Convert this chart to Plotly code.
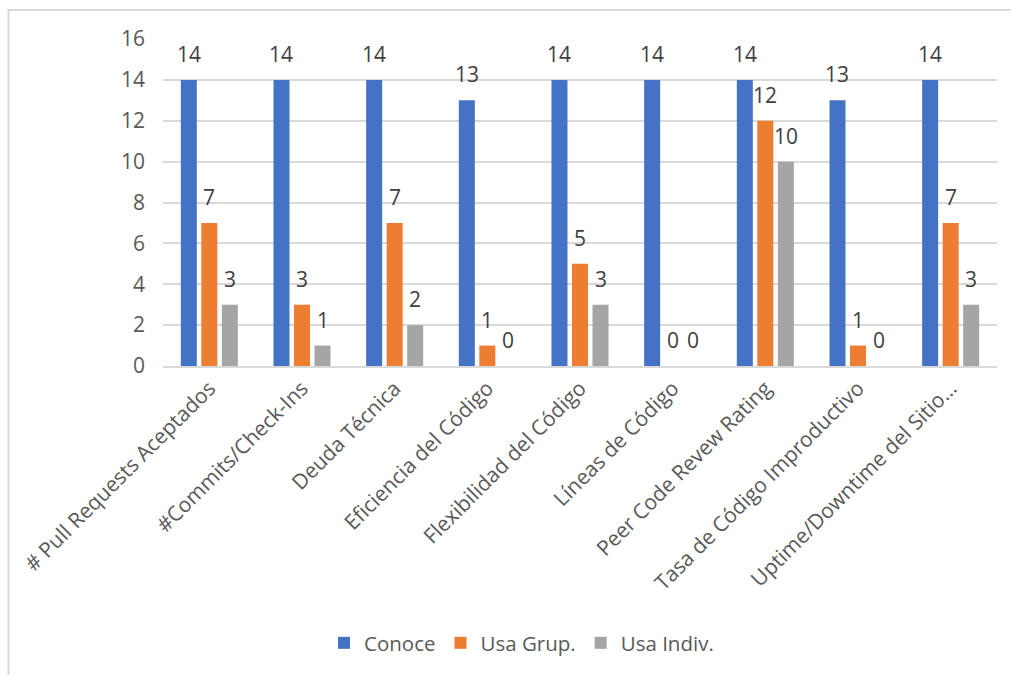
import plotly.graph_objects as go

categories = [
    "# Pull Requests Aceptados",
    "#Commits/Check-Ins",
    "Deuda Técnica",
    "Eficiencia del Código",
    "Flexibilidad del Código",
    "Líneas de Código",
    "Peer Code Revew Rating",
    "Tasa de Código Improductivo",
    "Uptime/Downtime del Sitio…",
]
conoce = [14, 14, 14, 13, 14, 14, 14, 13, 14]
usa_grup = [7, 3, 7, 1, 5, 0, 12, 1, 7]
usa_indiv = [3, 1, 2, 0, 3, 0, 10, 0, 3]

series = [
    ("Conoce", conoce, "#4472C4"),
    ("Usa Grup.", usa_grup, "#ED7D31"),
    ("Usa Indiv.", usa_indiv, "#A5A5A5"),
]

W, H = 1011, 675
L, R, T, B = 163, 14, 39, 309
plot_w = W - L - R
plot_h = H - T - B
FONT = "Open Sans"
TXT = "#595959"

BARGAP = 0.336
slot_px = plot_w / len(categories) * (1 - BARGAP) / len(series)

fig = go.Figure()
annotations = []
for i, (name, vals, color) in enumerate(series):
    fig.add_trace(go.Bar(
        name=name, x=categories, y=vals,
        marker=dict(color=color, line=dict(width=0)),
    ))
    offset = (i - (len(series) - 1) / 2) * slot_px
    for c, v in zip(categories, vals):
        annotations.append(dict(
            x=c, y=v, xref="x", yref="y", text=str(v), showarrow=False,
            xanchor="center", yanchor="bottom", xshift=offset, yshift=10,
            font=dict(family=FONT, size=21, color="#404040"),
        ))

def px_x(p):
    return (p - L) / plot_w

def px_y(p):
    return (H - B - p) / plot_h

fig.update_layout(
    width=W, height=H,
    margin=dict(l=L, r=R, t=T, b=B),
    paper_bgcolor="white", plot_bgcolor="white",
    barmode="group", bargap=BARGAP, bargroupgap=0.22,
    font=dict(family=FONT, size=21, color=TXT),
    showlegend=True,
    legend=dict(
        orientation="h", x=px_x(324), xanchor="left",
        y=px_y(643), yanchor="middle",
        font=dict(family=FONT, size=20.5, color=TXT),
        itemwidth=30, traceorder="normal",
    ),
    annotations=annotations,
    shapes=[dict(
        type="rect", xref="paper", yref="paper",
        x0=px_x(8.5), x1=px_x(1016), y0=px_y(680), y1=px_y(10),
        line=dict(color="#D9D9D9", width=2), fillcolor="rgba(0,0,0,0)",
        layer="below",
    )],
)
fig.update_xaxes(
    type="category", tickangle=-45, showgrid=False,
    showline=True, linecolor="#D9D9D9", linewidth=1.5,
    ticks="", tickfont=dict(family=FONT, size=21, color=TXT),
)
fig.update_yaxes(
    range=[0, 16], dtick=2, showgrid=True, gridcolor="#D9D9D9", gridwidth=1.5,
    zeroline=False, showline=False, ticks="",
    ticklabelstandoff=17,
    tickfont=dict(family=FONT, size=21, color=TXT),
)

fig.write_html("out.html")
